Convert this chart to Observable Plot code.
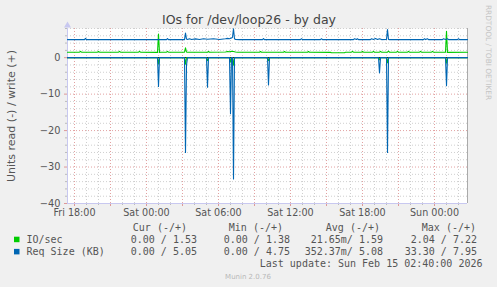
<!DOCTYPE html>
<html><head><meta charset="utf-8">
<script src="https://cdn.jsdelivr.net/npm/d3@7"></script>
<script src="https://cdn.jsdelivr.net/npm/@observablehq/plot@0.6"></script>
<style>
html,body{margin:0;padding:0;background:#f0f0f0;}
#c{position:relative;width:497px;height:287px;background:#f0f0f0;overflow:hidden;}
#c svg{position:absolute;left:0;top:0;}
</style></head><body><div id="c"></div>
<script>
// ---- data (minutes after start, value) ----
const startTime = "2026-02-13T17:25";
const spanMinutes = 2000;
const title = "IOs for /dev/loop26 - by day";
const yLabel = "Units read (-) / write (+)";
const yTicks = [0, -10, -20, -30, -40];
const xLabelTimes = ["2026-02-13T18:00","2026-02-14T00:00","2026-02-14T06:00","2026-02-14T12:00","2026-02-14T18:00","2026-02-15T00:00"];

const ioWrite = [[0,1.5],[60,1.5],[65,1.75],[70,1.5],[150,1.5],[155,1.75],[160,1.5],[255,1.5],[260,1.75],[265,1.5],[355,1.5],[360,1.75],[365,1.5],[450,1.45],[455,6.5],[460,1.4],[465,1.5],[495,1.5],[500,1.75],[505,1.5],[585,1.5],[590,2.7],[595,1.55],[600,1.5],[700,1.5],[705,1.7],[710,1.5],[790,1.55],[800,1.7],[810,1.6],[820,1.75],[830,1.7],[840,1.55],[850,1.5],[960,1.5],[965,1.7],[970,1.5],[1080,1.5],[1085,1.7],[1090,1.5],[1200,1.5],[1205,1.7],[1210,1.5],[1315,1.45],[1320,1.35],[1385,1.35],[1390,1.5],[1420,1.5],[1425,1.75],[1430,1.5],[1470,1.5],[1475,1.75],[1480,1.5],[1525,1.5],[1530,1.75],[1535,1.5],[1560,1.5],[1565,1.75],[1570,1.5],[1600,1.5],[1605,1.8],[1610,1.5],[1645,1.5],[1650,1.75],[1655,1.5],[1700,1.5],[1705,1.75],[1710,1.5],[1760,1.5],[1765,1.75],[1770,1.5],[1820,1.5],[1825,1.75],[1830,1.5],[1880,1.5],[1890,1.5],[1895,7.22],[1900,1.45],[2000,1.5]];
const ioRead = [[0,0],[450,0],[455,-1.7],[460,0],[585,0],[590,-1.8],[595,0],[695,0],[700,-0.8],[705,0],[810,0],[815,-1.2],[820,0],[825,0],[830,-2.04],[835,0],[1000,0],[1005,-0.8],[1010,0],[1555,0],[1560,-0.6],[1565,0],[1595,0],[1600,-1.4],[1605,0],[1890,0],[1895,-1.5],[1900,0],[2000,0]];
const reqWrite = [[0,4.95],[85,4.95],[90,5.3],[95,4.95],[495,4.95],[500,5.25],[505,4.95],[585,4.95],[590,6.75],[595,5.1],[600,5.0],[610,5.2],[620,5.0],[640,5.15],[660,5.0],[680,5.2],[700,5.05],[730,5.2],[760,5.0],[790,5.2],[800,5.3],[810,5.2],[820,5.4],[825,5.6],[830,7.95],[835,5.2],[840,5.0],[860,4.95],[975,4.95],[980,5.25],[985,4.95],[1165,4.95],[1170,5.2],[1175,4.95],[1265,4.95],[1270,5.2],[1275,4.95],[1430,4.95],[1435,5.2],[1445,5.0],[1450,5.2],[1455,4.95],[1515,4.95],[1520,5.2],[1530,5.0],[1540,5.25],[1550,5.0],[1560,5.2],[1570,4.95],[1595,5.0],[1600,7.7],[1605,5.0],[1610,4.95],[1780,4.95],[1785,5.2],[1790,4.95],[1800,5.2],[1805,4.95],[1875,4.95],[1880,5.2],[1890,5.0],[1900,5.2],[1905,4.95],[1950,4.95],[1955,5.2],[1960,4.95],[2000,4.95]];
const reqRead = [[0,0],[450,0],[455,-7.9],[460,0],[585,0],[590,-26],[595,-2],[600,0],[695,0],[700,-8.1],[705,0],[810,0],[815,-15.4],[820,0],[825,0],[830,-33.3],[835,0],[1000,0],[1005,-7.5],[1010,0],[1555,0],[1560,-4.2],[1565,0],[1595,0],[1600,-26],[1605,0],[1890,0],[1895,-7.7],[1900,0],[2000,0]];

const legendHeaders = ["Cur (-/+)","Min (-/+)","Avg (-/+)","Max (-/+)"];
const legendNames = ["IO/sec","Req Size (KB)"];
const legendRows = [
  ["0.00 / 1.53","0.00 / 1.38","21.65m/ 1.59","2.04 / 7.22"],
  ["0.00 / 5.05","0.00 / 4.75","352.37m/ 5.08","33.30 / 7.95"]
];
const lastUpdate = "Last update: Sun Feb 15 02:40:00 2026";
const watermark = "RRDTOOL / TOBI OETIKER";
const version = "Munin 2.0.76";

// ---- build ----
const t0 = new Date(startTime);
const toDate = m => new Date(t0.getTime() + m * 60000);
const mk = arr => arr.map(([m, v]) => ({t: toDate(m), v}));
const t1 = toDate(spanMinutes);
const hourly = d3.timeHour.range(t0, t1);
const majorX = hourly.filter(d => d.getHours() % 3 === 0);
const minorX = hourly.filter(d => d.getHours() % 3 !== 0);
const yMinor = d3.range(-38, 9, 2).filter(v => v % 10 !== 0);
const yMajor = yTicks.filter(v => v !== 0);
const xLabels = xLabelTimes.map(s => new Date(s));
const GREEN = "#00cc00", BLUE = "#0066b3";
const GRID = "#cfcfcf", MGRID = "#e2a2a2", AXIS = "#c8c8f0";

const chart = Plot.plot({
  width: 497, height: 220,
  marginLeft: 67, marginRight: 30, marginTop: 28, marginBottom: 17,
  style: {background: "transparent", fontFamily: "DejaVu Sans", fontSize: "9.6px", color: "#555"},
  x: {type: "time", domain: [t0, t1]},
  y: {domain: [-40, 8]},
  marks: [
    Plot.frame({fill: "white", stroke: "none"}),
    Plot.ruleX(minorX, {stroke: GRID, strokeDasharray: "1,2"}),
    Plot.ruleY(yMinor, {stroke: GRID, strokeDasharray: "1,2"}),
    Plot.ruleX(majorX, {stroke: MGRID, strokeDasharray: "1,2"}),
    Plot.ruleY(yMajor, {stroke: MGRID, strokeDasharray: "1,2"}),
    Plot.axisY(yMinor, {tickSize: 2, stroke: "#bbb", tickFormat: () => "", label: null}),
    Plot.axisY(yTicks, {tickSize: 3, tickPadding: 4, stroke: "#d99", fill: "#555", label: null, fontSize: 9.8}),
    Plot.axisX(minorX, {tickSize: 2, stroke: "#bbb", tickFormat: () => "", label: null}),
    Plot.axisX(majorX, {tickSize: 3, stroke: "#d99", tickFormat: () => "", label: null}),
    Plot.axisX(xLabels, {tickSize: 0, tickPadding: 6, fill: "#555", tickFormat: d3.timeFormat("%a %H:%M"), label: null, fontSize: 9.6}),
    Plot.ruleX([t1], {stroke: "#aaa"}),
    Plot.ruleY([-40], {stroke: AXIS}),
    Plot.ruleX([t0], {stroke: AXIS}),
    Plot.dot([{t: t0, v: 8}], {x: "t", y: "v", symbol: "triangle", r: 2.6, fill: AXIS, stroke: "none", dy: -3}),
    Plot.ruleY([0], {stroke: "black", strokeWidth: 1}),
    Plot.line(mk(ioRead), {x: "t", y: "v", stroke: GREEN, strokeWidth: 1.1}),
    Plot.line(mk(ioWrite), {x: "t", y: "v", stroke: GREEN, strokeWidth: 1.1}),
    Plot.line(mk(reqRead), {x: "t", y: "v", stroke: BLUE, strokeWidth: 1.1}),
    Plot.line(mk(reqWrite), {x: "t", y: "v", stroke: BLUE, strokeWidth: 1.1})
  ]
});
const c = document.getElementById("c");
c.appendChild(chart);

// overlay text
const ns = "http://www.w3.org/2000/svg";
const ov = document.createElementNS(ns, "svg");
ov.setAttribute("width", 497); ov.setAttribute("height", 287);
c.appendChild(ov);
function txt(s, x, y, o = {}) {
  const e = document.createElementNS(ns, "text");
  e.textContent = s;
  e.setAttribute("x", x); e.setAttribute("y", y);
  e.setAttribute("font-family", o.mono ? "DejaVu Sans Mono" : "DejaVu Sans");
  e.setAttribute("font-size", o.size || 10);
  e.setAttribute("fill", o.fill || "#555");
  e.setAttribute("text-anchor", o.anchor || "start");
  if (o.transform) e.setAttribute("transform", o.transform);
  e.setAttribute("xml:space", "preserve");
  e.style.whiteSpace = "pre";
  ov.appendChild(e);
  return e;
}
txt(title, 249, 23.5, {size: 12.5, anchor: "middle", fill: "#444"});
txt(yLabel, 0, 0, {size: 11, anchor: "middle", transform: "translate(15,116) rotate(-90)"});
txt(watermark, 0, 0, {size: 7.4, anchor: "middle", fill: "#c4c4c4", transform: "translate(485.5,52.5) rotate(90)"});
const colRight = [197, 290, 383, 477];
const headRight = [187, 283, 380, 476];
legendHeaders.forEach((h, i) => txt(h, headRight[i], 230.8, {mono: true, anchor: "end"}));
const rowBase = [243, 255.2];
const colors = [GREEN, BLUE];
legendNames.forEach((n, r) => {
  const sq = document.createElementNS(ns, "rect");
  sq.setAttribute("x", 14); sq.setAttribute("y", rowBase[r] - 6.3);
  sq.setAttribute("width", 5.5); sq.setAttribute("height", 5.5);
  sq.setAttribute("fill", colors[r]);
  ov.appendChild(sq);
  txt(n, 26.5, rowBase[r], {mono: true});
  legendRows[r].forEach((v, i) => txt(v, colRight[i], rowBase[r], {mono: true, anchor: "end"}));
});
txt(lastUpdate, 482.5, 267.3, {mono: true, anchor: "end"});
txt(version, 248, 279, {size: 7, anchor: "middle", fill: "#b8b8b8"});
</script></body></html>
